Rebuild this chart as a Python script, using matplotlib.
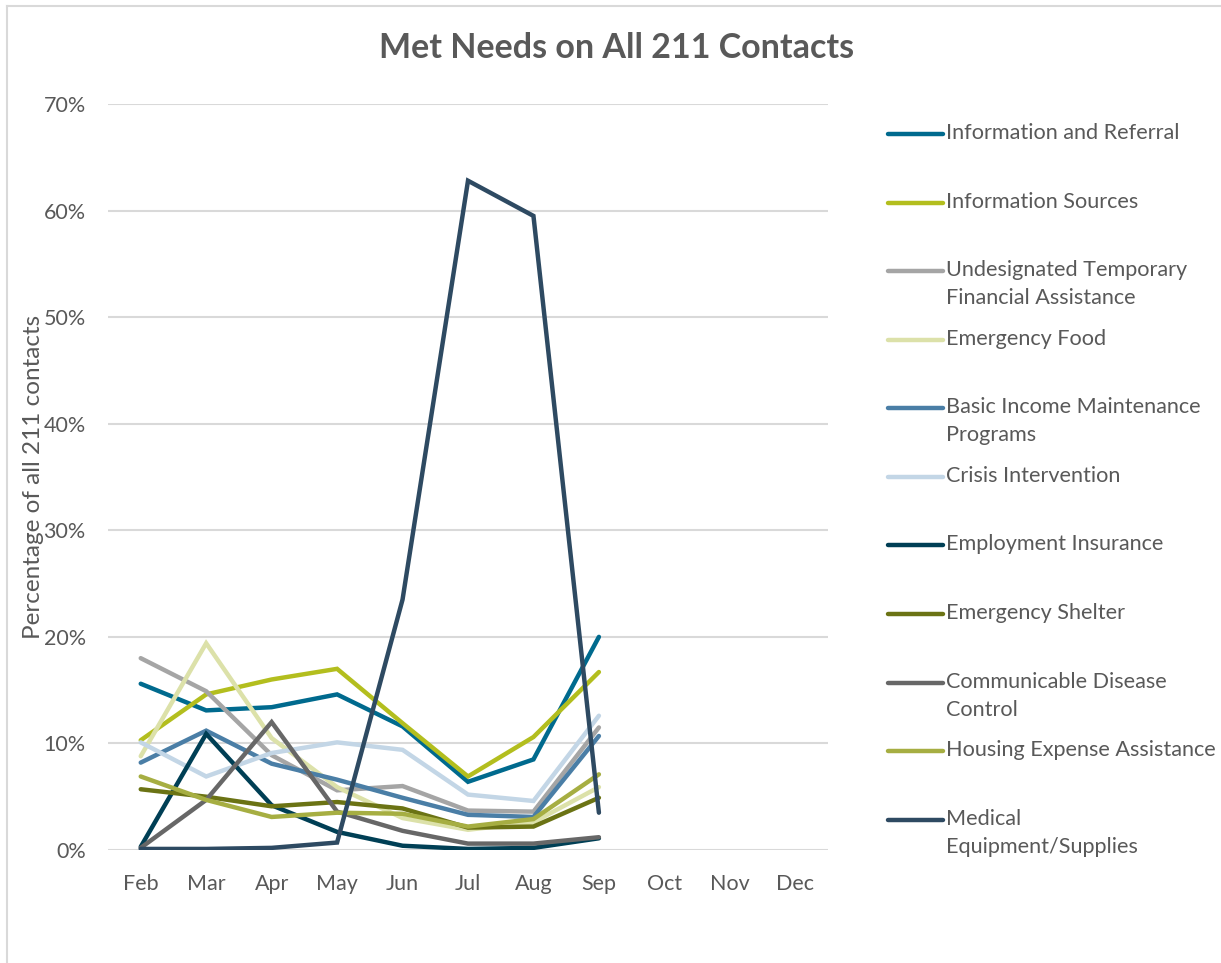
import matplotlib
matplotlib.use("Agg")
import matplotlib.pyplot as plt
from matplotlib.lines import Line2D
from matplotlib.ticker import PercentFormatter

plt.rcParams['font.family'] = ['Lato', 'DejaVu Sans']

months = ["Feb", "Mar", "Apr", "May", "Jun", "Jul", "Aug", "Sep", "Oct", "Nov", "Dec"]

info_referral   = [15.6, 13.1, 13.4, 14.6, 11.6, 6.4, 8.5, 20.0]
info_sources    = [10.3, 14.6, 16.0, 17.0, 11.9, 6.9, 10.6, 16.7]
undesignated    = [18.0, 14.9, 8.9, 5.6, 6.0, 3.7, 3.6, 11.5]
emergency_food  = [8.8, 19.4, 10.5, 5.9, 3.0, 1.9, 2.6, 5.9]
basic_income    = [8.2, 11.2, 8.1, 6.6, 4.9, 3.3, 3.1, 10.7]
crisis          = [10.1, 6.9, 9.1, 10.1, 9.4, 5.2, 4.6, 12.6]
employment_ins  = [0.3, 10.9, 4.2, 1.7, 0.4, 0.1, 0.2, 1.1]
emerg_shelter   = [5.7, 5.0, 4.1, 4.5, 3.9, 2.1, 2.2, 4.9]
communicable    = [0.2, 4.7, 12.0, 3.6, 1.8, 0.6, 0.6, 1.2]
housing_expense = [6.9, 4.7, 3.1, 3.5, 3.4, 2.2, 2.9, 7.1]
medical         = [0.1, 0.1, 0.2, 0.7, 23.5, 62.8, 59.5, 3.5]

series = [
    ("Information and Referral", info_referral, "#006A8E"),
    ("Information Sources", info_sources, "#B3BE1E"),
    ("Undesignated Temporary\nFinancial Assistance", undesignated, "#A5A5A5"),
    ("Emergency Food", emergency_food, "#DCE1A9"),
    ("Basic Income Maintenance\nPrograms", basic_income, "#4A7EA6"),
    ("Crisis Intervention", crisis, "#C3D6E6"),
    ("Employment Insurance", employment_ins, "#003F55"),
    ("Emergency Shelter", emerg_shelter, "#6B7314"),
    ("Communicable Disease\nControl", communicable, "#676767"),
    ("Housing Expense Assistance", housing_expense, "#A6AE42"),
    ("Medical\nEquipment/Supplies", medical, "#2E4A62"),
]

W, H = 1221, 963
fig = plt.figure(figsize=(W / 100, H / 100), dpi=100)
ax = fig.add_axes([108 / W, 1 - 850 / H, 720 / W, (850 - 104) / H])

xs = list(range(len(months)))
for name, vals, col in series:
    ax.plot(xs[:len(vals)], vals, color=col, lw=3.2, solid_capstyle='round',
            solid_joinstyle='miter')

ax.set_xlim(-0.5, len(months) - 0.5)
ax.set_ylim(0, 70)
ax.set_yticks(range(0, 71, 10))
ax.yaxis.set_major_formatter(PercentFormatter(decimals=0))
ax.set_xticks(xs)
ax.set_xticklabels(months)
ax.grid(axis='y', color='#D9D9D9', lw=1.5)
ax.set_axisbelow(True)
for s in ax.spines.values():
    s.set_visible(False)
ax.tick_params(length=0, labelsize=15.5, colors='#595959')
ax.tick_params(axis='x', pad=17)
ax.tick_params(axis='y', pad=16)
ax.set_ylabel("Percentage of all 211 contacts", fontsize=17.5, color='#595959')
ax.yaxis.set_label_coords(-64 / 720, 0.5)

fig.text(617 / W, 1 - 48 / H, "Met Needs on All 211 Contacts", ha='center', va='center',
         fontsize=24.5, fontweight='bold', color='#595959')

# legend
ys = [134, 203, 271, 340, 408, 477, 545, 614, 683, 751, 820]
for (name, vals, col), y in zip(series, ys):
    fig.add_artist(Line2D([888 / W, 943 / W], [1 - y / H, 1 - y / H], color=col, lw=3.2,
                          solid_capstyle='round', transform=fig.transFigure))
    fig.text(946 / W, 1 - (y - 11) / H, name, ha='left', va='top', fontsize=15.6,
             color='#595959', linespacing=1.5)

# border
fig.add_artist(Line2D([7 / W, 7 / W], [0, 1 - 6 / H], color='#D9D9D9', lw=1.5,
                      transform=fig.transFigure))
fig.add_artist(Line2D([7 / W, 1], [1 - 6 / H, 1 - 6 / H], color='#D9D9D9', lw=1.5,
                      transform=fig.transFigure))

fig.savefig("out.png", dpi=100)
